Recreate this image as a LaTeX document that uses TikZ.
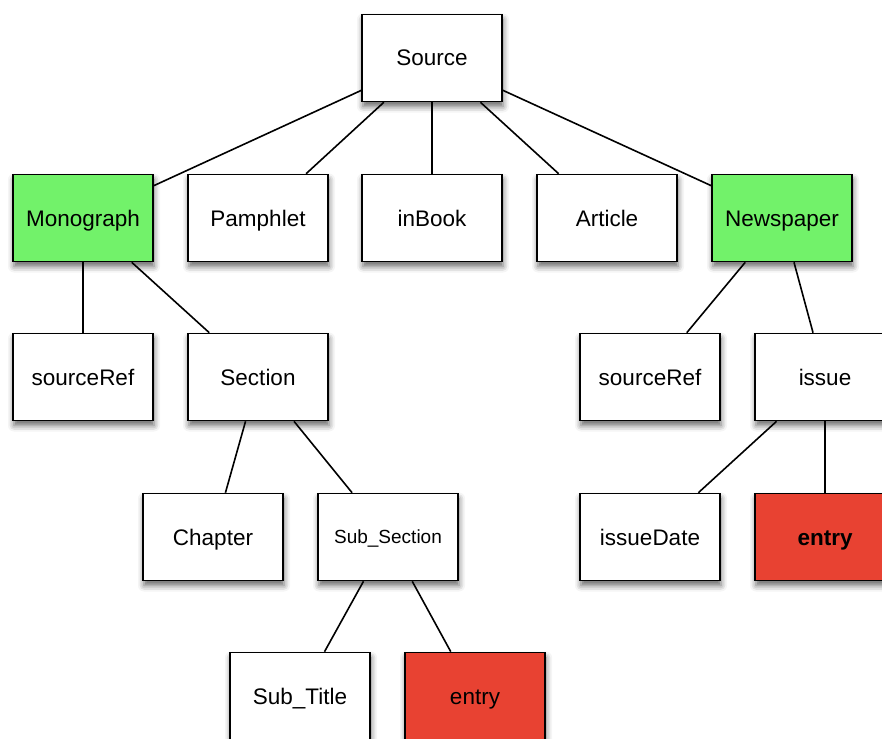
\documentclass[tikz,border=0pt]{standalone}
\usepackage{fontspec}
\setmainfont{Liberation Sans}
\usetikzlibrary{shadows.blur}
\definecolor{boxgreen}{RGB}{114,242,106}
\definecolor{boxred}{RGB}{232,66,50}
\tikzset{
  box/.style={draw=black, line width=1.6pt, fill=white, minimum width=140pt, minimum height=87pt, inner sep=0pt,
    font=\fontsize{22.5}{27}\selectfont, text height=16pt, text depth=0pt,
    blur shadow={shadow xshift=1pt, shadow yshift=-5pt, shadow blur radius=6pt, shadow opacity=60}},
  greenbox/.style={box, fill=boxgreen},
  redbox/.style={box, fill=boxred},
  link/.style={draw=black, line width=1.6pt}
}
\begin{document}
\begin{tikzpicture}[x=1pt,y=-1pt]
\useasboundingbox (0,0) rectangle (882,738);
\clip (0,0) rectangle (882,738);
\node[box] (src) at (432,58) {Source};
\node[greenbox] (mono) at (83,218) {Monograph};
\node[box] (pamph) at (258,218) {Pamphlet};
\node[box] (inbook) at (432,218) {inBook};
\node[box] (article) at (607,218) {Article};
\node[greenbox] (news) at (782,218) {Newspaper};
\node[box] (sref1) at (83,377) {sourceRef};
\node[box] (section) at (258,377) {Section};
\node[box] (sref2) at (650,377) {sourceRef};
\node[box] (issue) at (825,377) {issue};
\node[box] (chapter) at (213,537) {Chapter};
\node[box, font=\fontsize{19}{23}\selectfont, text height=13.6pt] (subsec) at (388,537) {Sub\_Section};
\node[box] (idate) at (650,537) {issueDate};
\node[redbox, font=\fontsize{22.5}{27}\selectfont\bfseries] (entrytwo) at (825,537) {entry};
\node[box] (subtitle) at (300,696) {Sub\_Title};
\node[redbox] (entryone) at (475,696) {entry};
\path[link] (src) -- (mono);
\path[link] (src) -- (pamph);
\path[link] (src) -- (inbook);
\path[link] (src) -- (article);
\path[link] (src) -- (news);
\path[link] (mono) -- (sref1);
\path[link] (mono) -- (section);
\path[link] (section) -- (chapter);
\path[link] (section) -- (subsec);
\path[link] (subsec) -- (subtitle);
\path[link] (subsec) -- (entryone);
\path[link] (news) -- (sref2);
\path[link] (news) -- (issue);
\path[link] (issue) -- (idate);
\path[link] (issue) -- (entrytwo);
\end{tikzpicture}
\end{document}
